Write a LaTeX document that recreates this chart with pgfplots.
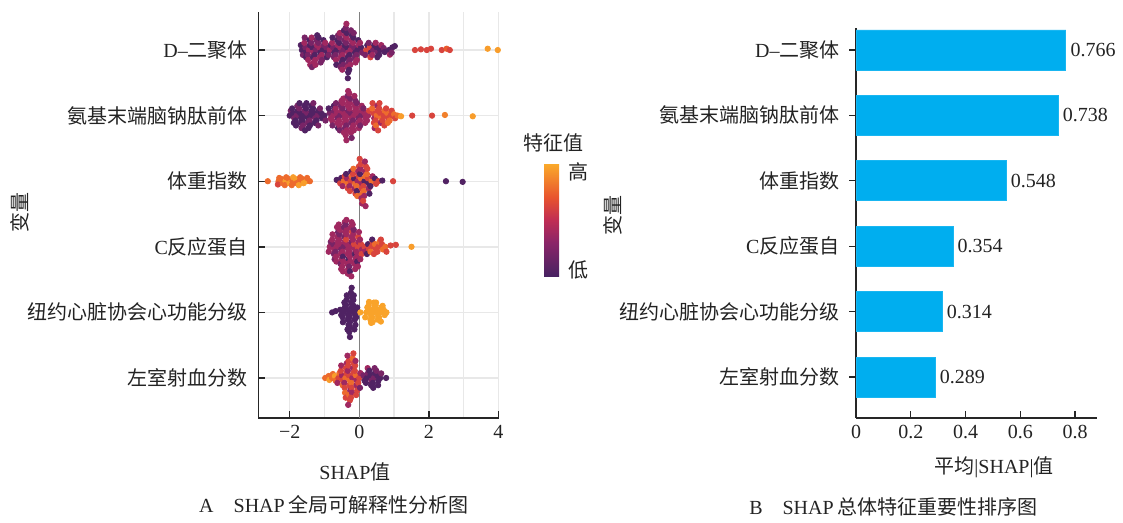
\documentclass[border=0pt]{standalone}
\usepackage{pgfplots}
\pgfplotsset{compat=1.18}
\usepackage{pgfplotstable}
\usepackage{fontspec}
\setmainfont{Liberation Serif}
\newfontfamily\cjk{Noto Sans CJK SC}
\newcommand{\zh}[1]{{\cjk #1}}
\definecolor{barblue}{RGB}{0,174,239}
\definecolor{txt}{RGB}{35,35,35}
\pgfplotsset{colormap={shapinf}{rgb255(0cm)=(70,34,98) rgb255(3cm)=(138,37,104) rgb255(5cm)=(192,45,84) rgb255(7cm)=(232,84,46) rgb255(10cm)=(251,172,42)}}

% row 5: D-dimer
\pgfplotstableread{
x y c
-1.65 5.00 0.05
-1.62 4.925 0.22
-1.68 5.075 0.05
-1.55 5.04 0.22
-1.52 4.96 0.05
-1.58 5.11 0.38
-1.53 4.89 0.05
-1.57 5.19 0.22
-1.45 5.00 0.38
-1.42 5.075 0.05
-1.48 4.925 0.22
-1.43 5.15 0.05
-1.47 4.85 0.38
-1.41 4.775 0.38
-1.35 5.04 0.05
-1.32 4.96 0.38
-1.38 5.11 0.22
-1.33 4.89 0.05
-1.37 5.19 0.38
-1.31 4.81 0.38
-1.36 4.74 0.22
-1.25 5.00 0.22
-1.22 5.075 0.38
-1.28 4.925 0.05
-1.23 5.15 0.22
-1.27 4.85 0.38
-1.21 5.225 0.05
-1.26 4.775 0.38
-1.15 5.04 0.38
-1.12 4.96 0.05
-1.18 5.11 0.22
-1.13 4.89 0.38
-1.17 5.19 0.05
-1.11 4.81 0.22
-1.05 5.00 0.05
-1.02 5.075 0.22
-1.08 4.925 0.38
-1.03 5.15 0.05
-1.07 4.85 0.22
-0.95 5.04 0.22
-0.92 4.96 0.05
-0.98 5.11 0.38
-0.93 4.89 0.05
-0.85 5.00 0.38
-0.82 5.075 0.05
-0.88 4.925 0.22
-0.75 5.04 0.22
-0.72 4.96 0.05
-0.78 5.11 0.38
-0.73 4.89 0.22
-0.77 5.19 0.05
-0.65 5.00 0.05
-0.62 5.075 0.38
-0.68 4.925 0.22
-0.63 5.15 0.05
-0.67 4.85 0.38
-0.61 5.225 0.22
-0.66 4.775 0.05
-0.55 5.04 0.38
-0.52 4.96 0.22
-0.58 5.11 0.05
-0.53 4.89 0.38
-0.57 5.19 0.22
-0.51 4.81 0.05
-0.56 5.26 0.38
-0.54 4.74 0.22
-0.45 5.00 0.22
-0.42 5.075 0.05
-0.48 4.925 0.38
-0.43 5.15 0.22
-0.47 4.85 0.05
-0.41 5.225 0.38
-0.46 4.775 0.22
-0.44 5.30 0.05
-0.49 4.70 0.38
-0.35 5.04 0.05
-0.32 4.96 0.38
-0.38 5.11 0.22
-0.33 4.89 0.05
-0.37 5.19 0.38
-0.31 4.81 0.22
-0.36 5.26 0.05
-0.34 4.74 0.38
-0.39 5.34 0.22
-0.32 4.66 0.05
-0.37 5.40 0.38
-0.33 4.57 0.05
-0.25 5.00 0.38
-0.22 5.075 0.22
-0.28 4.925 0.05
-0.23 5.15 0.38
-0.27 4.85 0.22
-0.21 5.225 0.05
-0.26 4.775 0.38
-0.24 5.30 0.22
-0.29 4.70 0.05
-0.15 5.04 0.22
-0.12 4.96 0.05
-0.18 5.11 0.38
-0.13 4.89 0.22
-0.17 5.19 0.05
-0.11 4.81 0.38
-0.16 5.26 0.22
-0.05 5.00 0.05
-0.02 5.075 0.38
-0.08 4.925 0.22
-0.03 5.15 0.05
-0.07 4.85 0.38
0.05 5.04 0.05
0.08 4.96 0.22
0.02 5.11 0.38
0.2 5.00 0.62
0.23 5.075 0.05
0.17 4.925 0.22
0.3 5.04 0.62
0.33 4.96 0.05
0.27 5.11 0.22
0.32 4.89 0.62
0.4 5.00 0.22
0.43 5.075 0.05
0.37 4.925 0.38
0.5 5.04 0.05
0.53 4.96 0.22
0.47 5.11 0.38
0.52 4.89 0.05
0.6 5.00 0.05
0.63 5.075 0.38
0.57 4.925 0.05
0.7 5.03 0.22
0.73 4.97 0.05
0.85 5.00 0.05
0.88 4.93 0.38
0.95 5.04 0.05
0.93 4.96 0.22
1.02 5.06 0.05
1.6 5.00 0.62
1.77 5.01 0.62
1.94 5.00 0.62
2.06 5.02 0.62
2.37 5.00 0.62
2.51 5.02 0.72
2.6 5.00 0.62
3.69 5.02 0.95
3.98 5.00 0.95
}\rowfive

% row 4: NT-proBNP
\pgfplotstableread{
x y c
-2.0 4.00 0.05
-1.97 4.075 0.22
-1.9 4.04 0.05
-1.87 3.96 0.22
-1.93 4.11 0.05
-1.88 3.89 0.05
-1.8 4.00 0.22
-1.77 4.075 0.05
-1.83 3.925 0.05
-1.78 4.15 0.22
-1.82 3.85 0.05
-1.7 4.04 0.05
-1.67 3.96 0.05
-1.73 4.11 0.22
-1.68 3.89 0.05
-1.72 4.19 0.05
-1.66 3.81 0.22
-1.6 4.00 0.05
-1.57 4.075 0.22
-1.63 3.925 0.05
-1.58 4.15 0.05
-1.62 3.85 0.22
-1.56 3.775 0.05
-1.5 4.04 0.22
-1.47 3.96 0.05
-1.53 4.11 0.05
-1.48 3.89 0.22
-1.52 4.19 0.05
-1.46 3.81 0.05
-1.4 4.00 0.05
-1.37 4.075 0.05
-1.43 3.925 0.22
-1.38 4.15 0.05
-1.42 3.85 0.05
-1.3 4.04 0.05
-1.27 3.96 0.22
-1.33 4.11 0.05
-1.28 3.89 0.05
-1.32 4.19 0.22
-1.2 4.00 0.22
-1.17 4.075 0.05
-1.23 3.925 0.05
-1.18 3.85 0.22
-1.1 4.04 0.05
-1.07 3.96 0.05
-1.13 4.11 0.22
-1.0 4.00 0.05
-0.97 3.925 0.22
-0.85 4.04 0.22
-0.82 3.96 0.38
-0.88 4.11 0.05
-0.75 4.00 0.38
-0.72 4.075 0.22
-0.78 3.925 0.38
-0.73 4.15 0.05
-0.77 3.85 0.22
-0.65 4.04 0.38
-0.62 3.96 0.22
-0.68 4.11 0.38
-0.63 3.89 0.38
-0.67 4.19 0.22
-0.61 3.81 0.05
-0.55 4.00 0.22
-0.52 4.075 0.38
-0.58 3.925 0.38
-0.53 4.15 0.22
-0.57 3.85 0.38
-0.51 4.225 0.38
-0.56 3.775 0.22
-0.45 4.04 0.38
-0.42 3.96 0.38
-0.48 4.11 0.22
-0.43 3.89 0.38
-0.47 4.19 0.38
-0.41 3.81 0.22
-0.46 4.26 0.38
-0.44 3.74 0.38
-0.35 4.00 0.38
-0.32 4.075 0.22
-0.38 3.925 0.38
-0.33 4.15 0.38
-0.37 3.85 0.22
-0.31 4.225 0.38
-0.36 3.775 0.38
-0.34 4.30 0.22
-0.39 3.70 0.38
-0.32 4.375 0.38
-0.37 3.625 0.38
-0.25 4.04 0.22
-0.22 3.96 0.38
-0.28 4.11 0.38
-0.23 3.89 0.22
-0.27 4.19 0.38
-0.21 3.81 0.38
-0.26 4.26 0.22
-0.24 3.74 0.38
-0.29 4.34 0.38
-0.22 3.66 0.22
-0.15 4.00 0.38
-0.12 4.075 0.38
-0.18 3.925 0.22
-0.13 4.15 0.38
-0.17 3.85 0.38
-0.11 4.225 0.22
-0.16 3.775 0.38
-0.14 4.30 0.38
-0.05 4.04 0.38
-0.02 3.96 0.22
-0.08 4.11 0.38
-0.03 3.89 0.38
-0.07 4.19 0.22
-0.01 3.81 0.38
0.05 4.00 0.22
0.08 4.075 0.38
0.02 3.925 0.38
0.07 4.15 0.38
0.03 3.85 0.22
0.15 4.04 0.38
0.18 3.96 0.38
0.12 4.11 0.22
0.17 3.89 0.38
0.25 4.00 0.38
0.28 4.075 0.62
0.22 3.925 0.38
0.4 4.04 0.62
0.43 3.96 0.38
0.37 4.11 0.78
0.42 3.89 0.62
0.38 4.19 0.62
0.44 3.81 0.38
0.5 4.00 0.78
0.53 4.075 0.62
0.47 3.925 0.62
0.52 4.15 0.38
0.48 3.85 0.78
0.54 3.775 0.62
0.6 4.04 0.62
0.63 3.96 0.78
0.57 4.11 0.62
0.62 3.89 0.38
0.58 4.19 0.62
0.7 4.00 0.62
0.73 4.075 0.78
0.67 3.925 0.62
0.72 3.85 0.62
0.8 4.04 0.78
0.83 3.96 0.62
0.77 4.11 0.62
0.82 3.89 0.78
0.9 4.00 0.62
0.93 4.075 0.62
0.87 3.925 0.78
1.0 4.02 0.78
1.03 3.96 0.62
1.1 4.00 0.78
1.2 3.99 0.95
1.52 4.00 0.62
2.09 4.00 0.62
2.46 4.01 0.85
3.26 3.99 0.95
}\rowfour

% row 3: BMI
\pgfplotstableread{
x y c
-2.63 3.00 0.78
-2.32 3.00 0.78
-2.30 3.05 0.78
-2.34 2.95 0.62
-2.22 3.03 0.78
-2.20 2.97 0.78
-2.12 3.00 0.95
-2.10 3.06 0.78
-2.14 2.94 0.78
-2.02 3.03 0.78
-2.00 2.97 0.95
-1.92 3.00 0.78
-1.90 3.06 0.95
-1.94 2.94 0.78
-1.82 3.03 0.95
-1.80 2.97 0.78
-1.72 3.00 0.78
-1.70 3.06 0.78
-1.74 2.94 0.95
-1.62 3.03 0.78
-1.60 2.97 0.95
-1.52 3.00 0.95
-1.50 3.05 0.78
-1.42 3.00 0.78
-0.65 3.02 0.05
-0.55 2.97 0.62
-0.52 3.05 0.05
-0.45 3.00 0.78
-0.42 3.075 0.62
-0.48 2.925 0.38
-0.35 3.04 0.38
-0.32 2.96 0.78
-0.38 3.11 0.05
-0.33 2.89 0.62
-0.25 3.00 0.62
-0.22 3.075 0.78
-0.28 2.925 0.38
-0.23 3.15 0.05
-0.27 2.85 0.62
-0.15 3.04 0.05
-0.12 2.96 0.78
-0.18 3.11 0.62
-0.13 2.89 0.38
-0.17 3.19 0.78
-0.11 2.81 0.62
-0.05 3.00 0.38
-0.02 3.075 0.62
-0.08 2.925 0.78
-0.03 3.15 0.38
-0.07 2.85 0.05
-0.01 3.225 0.62
-0.06 2.775 0.78
0.05 3.04 0.78
0.08 2.96 0.38
0.02 3.11 0.05
0.07 2.89 0.62
0.03 3.19 0.38
0.09 2.81 0.78
0.04 3.26 0.62
0.06 2.74 0.38
0.01 3.34 0.62
0.08 2.66 0.38
0.15 3.00 0.05
0.18 3.075 0.78
0.12 2.925 0.62
0.17 3.15 0.38
0.13 2.85 0.78
0.19 3.225 0.62
0.14 2.775 0.38
0.16 3.30 0.38
0.11 2.70 0.62
0.18 2.62 0.38
0.25 3.04 0.62
0.28 2.96 0.05
0.22 3.11 0.78
0.27 2.89 0.38
0.23 3.19 0.62
0.29 2.81 0.05
0.35 3.00 0.78
0.38 3.075 0.38
0.32 2.925 0.05
0.45 3.04 0.05
0.48 2.96 0.62
0.55 3.00 0.62
0.66 3.01 0.05
0.97 3.00 0.62
2.49 3.00 0.05
2.97 2.99 0.05
}\rowthree

% row 2: CRP
\pgfplotstableread{
x y c
-0.85 2.00 0.38
-0.82 2.075 0.22
-0.88 1.925 0.38
-0.75 2.04 0.22
-0.72 1.96 0.38
-0.78 2.11 0.38
-0.73 1.89 0.22
-0.77 2.19 0.38
-0.71 1.81 0.22
-0.65 2.00 0.38
-0.62 2.075 0.38
-0.68 1.925 0.22
-0.63 2.15 0.38
-0.67 1.85 0.38
-0.61 2.225 0.22
-0.66 1.775 0.38
-0.64 2.30 0.38
-0.55 2.04 0.38
-0.52 1.96 0.22
-0.58 2.11 0.38
-0.53 1.89 0.38
-0.57 2.19 0.22
-0.51 1.81 0.38
-0.56 2.26 0.38
-0.54 1.74 0.22
-0.59 2.34 0.38
-0.52 1.66 0.38
-0.45 2.00 0.22
-0.42 2.075 0.38
-0.48 1.925 0.38
-0.43 2.15 0.22
-0.47 1.85 0.05
-0.41 2.225 0.38
-0.46 1.775 0.38
-0.44 2.30 0.22
-0.49 1.70 0.38
-0.42 2.375 0.38
-0.47 1.625 0.38
-0.35 2.04 0.38
-0.32 1.96 0.38
-0.38 2.11 0.62
-0.33 1.89 0.38
-0.37 2.19 0.38
-0.31 1.81 0.05
-0.36 2.26 0.38
-0.34 1.74 0.38
-0.39 2.34 0.22
-0.32 1.66 0.38
-0.37 2.41 0.38
-0.33 1.59 0.38
-0.25 2.00 0.38
-0.22 2.075 0.22
-0.28 1.925 0.38
-0.23 2.15 0.38
-0.27 1.85 0.38
-0.21 2.225 0.62
-0.26 1.775 0.38
-0.24 2.30 0.38
-0.29 1.70 0.22
-0.22 2.375 0.38
-0.27 1.625 0.05
-0.23 1.55 0.38
-0.15 2.04 0.62
-0.12 1.96 0.38
-0.18 2.11 0.38
-0.13 1.89 0.05
-0.17 2.19 0.38
-0.11 1.81 0.38
-0.16 2.26 0.22
-0.14 1.74 0.38
-0.19 2.34 0.38
-0.12 1.66 0.38
-0.05 2.00 0.62
-0.02 2.075 0.38
-0.08 1.925 0.38
-0.03 2.15 0.62
-0.07 1.85 0.38
-0.01 2.225 0.38
-0.06 1.775 0.05
-0.04 1.70 0.38
0.05 2.04 0.62
0.08 1.96 0.38
0.02 2.11 0.38
0.07 1.89 0.62
0.03 1.81 0.38
0.15 2.00 0.62
0.18 1.93 0.38
0.25 2.04 0.05
0.28 1.96 0.62
0.22 1.89 0.05
0.35 2.00 0.62
0.38 2.075 0.62
0.32 1.925 0.78
0.37 2.11 0.05
0.45 2.04 0.78
0.48 1.96 0.62
0.42 1.89 0.62
0.55 2.00 0.62
0.58 2.075 0.78
0.52 1.925 0.62
0.65 2.04 0.62
0.68 1.96 0.78
0.62 2.11 0.62
0.75 2.00 0.78
0.78 1.925 0.62
0.9 2.02 0.62
1.05 2.03 0.62
1.5 2.00 0.95
}\rowtwo

% row 1: NYHA
\pgfplotstableread{
x y c
-0.78 1.00 0.04
-0.68 1.02 0.04
-0.55 1.04 0.04
-0.52 0.96 0.04
-0.45 1.00 0.04
-0.42 1.075 0.04
-0.48 0.925 0.04
-0.43 1.15 0.04
-0.47 0.85 0.04
-0.35 1.04 0.04
-0.32 0.96 0.04
-0.38 1.11 0.04
-0.33 0.89 0.04
-0.37 1.19 0.04
-0.31 0.81 0.04
-0.36 1.26 0.04
-0.34 0.74 0.04
-0.25 1.00 0.04
-0.22 1.075 0.04
-0.28 0.925 0.04
-0.23 1.15 0.04
-0.27 0.85 0.04
-0.21 1.225 0.04
-0.26 0.775 0.04
-0.24 1.30 0.04
-0.29 0.70 0.04
-0.22 1.375 0.04
-0.27 0.625 0.04
-0.15 1.04 0.04
-0.12 0.96 0.04
-0.18 1.11 0.04
-0.13 0.89 0.04
-0.17 1.19 0.04
-0.11 0.81 0.04
-0.16 1.26 0.04
-0.14 0.74 0.04
-0.08 1.00 0.04
-0.06 1.075 0.04
-0.09 0.925 0.04
0.03 1.00 0.97
0.2 1.00 0.97
0.23 1.075 0.97
0.17 0.925 0.97
0.3 1.04 0.97
0.33 0.96 0.97
0.27 1.11 0.97
0.32 0.89 0.97
0.28 1.16 0.97
0.34 0.84 0.97
0.4 1.00 0.97
0.43 1.075 0.97
0.37 0.925 0.97
0.42 1.15 0.97
0.38 0.85 0.97
0.5 1.04 0.97
0.53 0.96 0.97
0.47 1.11 0.97
0.52 0.89 0.97
0.48 1.15 0.97
0.6 1.00 0.97
0.63 1.075 0.97
0.57 0.925 0.97
0.62 0.86 0.97
0.7 1.04 0.97
0.73 0.96 0.97
0.67 1.10 0.97
0.78 1.00 0.97
}\rowone

% row 0: LVEF
\pgfplotstableread{
x y c
-0.98 0.00 0.78
-0.88 0.03 0.78
-0.86 -0.03 0.95
-0.78 0.00 0.78
-0.76 0.06 0.78
-0.70 0.03 0.95
-0.68 -0.04 0.78
-0.6 0.00 0.62
-0.57 0.075 0.78
-0.63 -0.075 0.38
-0.5 0.04 0.38
-0.47 -0.04 0.62
-0.53 0.11 0.62
-0.48 -0.11 0.78
-0.52 0.19 0.38
-0.4 0.00 0.78
-0.37 0.075 0.62
-0.43 -0.075 0.38
-0.38 0.15 0.62
-0.42 -0.15 0.62
-0.36 0.225 0.38
-0.41 -0.225 0.78
-0.39 -0.30 0.62
-0.3 0.04 0.62
-0.27 -0.04 0.78
-0.33 0.11 0.38
-0.28 -0.11 0.62
-0.32 0.19 0.62
-0.26 -0.19 0.38
-0.31 0.26 0.62
-0.29 -0.26 0.78
-0.34 0.34 0.38
-0.27 -0.34 0.62
-0.32 -0.41 0.38
-0.2 0.00 0.38
-0.17 0.075 0.62
-0.23 -0.075 0.78
-0.18 0.15 0.38
-0.22 -0.15 0.62
-0.16 0.225 0.62
-0.21 -0.225 0.38
-0.19 0.30 0.78
-0.24 -0.30 0.62
-0.17 0.375 0.62
-0.1 0.04 0.78
-0.07 -0.04 0.38
-0.13 0.11 0.62
-0.08 -0.11 0.38
-0.12 0.19 0.62
-0.06 -0.19 0.62
-0.11 0.26 0.38
-0.09 -0.26 0.62
0.0 0.00 0.62
0.03 0.075 0.38
-0.03 -0.075 0.62
0.02 -0.15 0.22
0.12 0.04 0.22
0.15 -0.04 0.05
0.22 0.00 0.05
0.25 0.075 0.22
0.19 -0.075 0.05
0.24 0.15 0.38
0.32 0.04 0.05
0.35 -0.04 0.22
0.29 0.11 0.05
0.34 -0.11 0.05
0.42 0.00 0.22
0.45 0.075 0.05
0.39 -0.075 0.05
0.44 0.15 0.22
0.40 -0.15 0.05
0.52 0.04 0.05
0.55 -0.04 0.05
0.49 0.11 0.22
0.54 -0.11 0.05
0.6 0.00 0.05
0.63 0.07 0.22
0.77 0.00 0.05
}\rowzero

% bars
\pgfplotstableread{
y x lab
0 0.289 0.289
1 0.314 0.314
2 0.354 0.354
3 0.548 0.548
4 0.738 0.738
5 0.766 0.766
}\bars

\begin{document}
\begin{tikzpicture}[every node/.style={text=txt}]
\path[use as bounding box] (0,0) rectangle (561.5pt,261.5pt);

\begin{axis}[
  at={(129.2pt,52.5pt)}, anchor=south west, scale only axis,
  width=120.4pt, height=203pt,
  xmin=-2.9, xmax=4.02, ymin=-0.61, ymax=5.58,
  axis x line=bottom, axis y line=left,
  axis line style={-, line width=0.7pt, draw=black!85},
  tick align=inside, major tick length=3.5pt,
  tick style={line width=0.7pt, draw=black!85},
  xtick={-2,0,2,4}, xticklabels={−2,0,2,4},
  minor xtick={-1,1,3}, minor tick length=0pt,
  xmajorgrids, xminorgrids, ymajorgrids,
  grid style={draw=black!9, line width=0.7pt},
  minor grid style={draw=black!9, line width=0.7pt},
  ytick={0,1,2,3,4,5},
  yticklabels={\zh{左室射血分数},\zh{纽约心脏协会心功能分级},C\zh{反应蛋自},\zh{体重指数},\zh{氨基末端脑钠肽前体},D–\zh{二聚体}},
  yticklabel style={xshift=-1.7pt},
  colormap name=shapinf,
  point meta min=0, point meta max=1,
  colorbar,
  colorbar style={
    at={(parent axis.south west)}, anchor=south west,
    xshift=134.3pt, yshift=70.5pt,
    scale only axis, width=7.5pt, height=57pt,
    ytick={0.06,0.92}, yticklabels={\zh{低},\zh{高}},
    major tick length=0pt,
    axis line style={draw=none},
    yticklabel style={xshift=1.2pt},
  },
]
\addplot[scatter, only marks, mark=*, mark size=1.35pt, point meta=explicit,
  scatter/use mapped color={draw=mapped color, fill=mapped color}]
  table[x=x, y=y, meta=c] {\rowfive};
\addplot[scatter, only marks, mark=*, mark size=1.35pt, point meta=explicit,
  scatter/use mapped color={draw=mapped color, fill=mapped color}]
  table[x=x, y=y, meta=c] {\rowfour};
\addplot[scatter, only marks, mark=*, mark size=1.35pt, point meta=explicit,
  scatter/use mapped color={draw=mapped color, fill=mapped color}]
  table[x=x, y=y, meta=c] {\rowthree};
\addplot[scatter, only marks, mark=*, mark size=1.35pt, point meta=explicit,
  scatter/use mapped color={draw=mapped color, fill=mapped color}]
  table[x=x, y=y, meta=c] {\rowtwo};
\addplot[scatter, only marks, mark=*, mark size=1.35pt, point meta=explicit,
  scatter/use mapped color={draw=mapped color, fill=mapped color}]
  table[x=x, y=y, meta=c] {\rowone};
\addplot[scatter, only marks, mark=*, mark size=1.35pt, point meta=explicit,
  scatter/use mapped color={draw=mapped color, fill=mapped color}]
  table[x=x, y=y, meta=c] {\rowzero};
\draw[black!50, line width=0.7pt] (axis cs:0,-0.61) -- (axis cs:0,5.58);
\end{axis}

\begin{axis}[
  at={(428pt,52.5pt)}, anchor=south west, scale only axis,
  width=120.5pt, height=195pt,
  xmin=0, xmax=0.88, ymin=-0.625, ymax=5.335,
  axis x line=bottom, axis y line=left,
  axis line style={-, line width=0.7pt, draw=black!85},
  tick align=inside, major tick length=3.5pt,
  tick style={line width=0.7pt, draw=black!85},
  xtick={0,0.2,0.4,0.6,0.8}, xticklabels={0,0.2,0.4,0.6,0.8},
  ytick={0,1,2,3,4,5},
  yticklabels={\zh{左室射血分数},\zh{纽约心脏协会心功能分级},C\zh{反应蛋自},\zh{体重指数},\zh{氨基末端脑钠肽前体},D–\zh{二聚体}},
  yticklabel style={xshift=-1.2pt},
  xbar, bar width=20pt,
  nodes near coords, point meta=explicit symbolic,
  nodes near coords style={anchor=west, inner sep=2.2pt, text=txt},
]
\addplot[fill=barblue, draw=barblue!90!white, line width=0.4pt] table[x=x, y=y, meta=lab] {\bars};
\end{axis}

\node[rotate=90] at (10pt,155pt) {\zh{变量}};
\node[rotate=90] at (306.5pt,153.5pt) {\zh{变量}};
\node at (276.5pt,190pt) {\zh{特征值}};
\node at (177.5pt,25.5pt) {SHAP\zh{值}};
\node at (497pt,28pt) {\zh{平均}|SHAP|\zh{值}};
\node at (167pt,9pt) {A\hspace{1em}SHAP\hspace{0.2em}\zh{全局可解释性分析图}};
\node at (446.75pt,8pt) {B\hspace{1em}SHAP\hspace{0.2em}\zh{总体特征重要性排序图}};
\end{tikzpicture}
\end{document}
